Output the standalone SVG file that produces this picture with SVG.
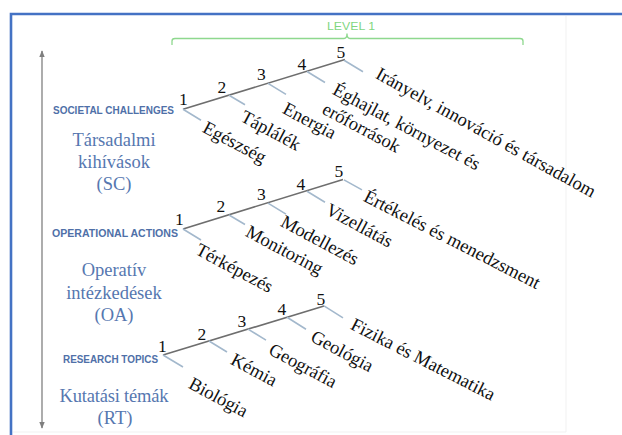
<svg xmlns="http://www.w3.org/2000/svg" width="622" height="435" viewBox="0 0 622 435">
<style>
.frame{fill:none;stroke:#4472C4;stroke-width:2.6}
.faint{fill:none;stroke:#F1F1F1;stroke-width:1}
.axis{stroke:#808080;stroke-width:1.3;fill:none}
.trunk{stroke:#6E6E6E;stroke-width:1.6;fill:none}
.tick{stroke:#A3B8CC;stroke-width:1.6;fill:none}
.brace{stroke:#8ED88E;stroke-width:1.3;fill:none}
.num{font-family:'Liberation Serif',serif;font-size:17.5px;fill:#111111}
.lab{font-family:'Liberation Serif',serif;font-size:18.5px;fill:#111111}
.cat{font-family:'Liberation Sans',sans-serif;font-weight:bold;font-size:10.5px;fill:#4F70A8}
.name{font-family:'Liberation Serif',serif;font-size:18.5px;fill:#5677B0;text-anchor:middle}
.lvl{font-family:'Liberation Sans',sans-serif;font-size:11px;fill:#7FD67F}
</style>
<defs>
<marker id="ah" viewBox="0 0 10 10" refX="9" refY="5" markerWidth="7" markerHeight="7" markerUnits="userSpaceOnUse" orient="auto-start-reverse">
<path d="M0,1 L10,5 L0,9 Z" fill="#7F7F7F"/>
</marker>
</defs>
<rect width="622" height="435" fill="#FFFFFF"/>
<path class="faint" d="M566,16 V432 H13"/>
<path class="frame" d="M11,435 V14 H622"/>

<g id="level1">
<path class="brace" d="M172,45 V41 Q172,38.5 175,38.5 H344 Q347,38.5 347,33.5 Q347,38.5 350,38.5 H520 Q523,38.5 523,41 V45"/>
<text class="lvl" x="327" y="30" textLength="48" lengthAdjust="spacingAndGlyphs">LEVEL 1</text>
</g>

<g id="axis">
<line class="axis" x1="42" y1="51" x2="42" y2="428" marker-start="url(#ah)" marker-end="url(#ah)"/>
</g>

<g id="sc-category">
<text class="cat" x="53" y="114" textLength="121" lengthAdjust="spacingAndGlyphs">SOCIETAL CHALLENGES</text>
<text class="name" x="114" y="146">Társadalmi</text>
<text class="name" x="114" y="168">kihívások</text>
<text class="name" x="114" y="190">(SC)</text>
</g>
<g id="oa-category">
<text class="cat" x="52" y="237" textLength="126" lengthAdjust="spacingAndGlyphs">OPERATIONAL ACTIONS</text>
<text class="name" x="114" y="276">Operatív</text>
<text class="name" x="114" y="299">intézkedések</text>
<text class="name" x="114" y="321">(OA)</text>
</g>
<g id="rt-category">
<text class="cat" x="63" y="363" textLength="95" lengthAdjust="spacingAndGlyphs">RESEARCH TOPICS</text>
<text class="name" x="114" y="402" textLength="109" lengthAdjust="spacing">Kutatási témák</text>
<text class="name" x="115" y="424">(RT)</text>
</g>

<g id="connectors">
<path class="trunk" d="M183,109.3 L345,59.5"/>
<path class="tick" d="M183,109.3 l18,11 M229,95.3 l16,9.5 M268,83.4 l18,11 M307,71.5 l18,11 M344,60.2 l19,11.5"/>
<path class="trunk" d="M183,229 L343,179.5"/>
<path class="tick" d="M183,229 l18,11 M229,215 l16,9.5 M268,203.1 l18,11 M307,191.2 l18,11 M344,179.9 l18,10"/>
<path class="trunk" d="M163,355 L324,306"/>
<path class="tick" d="M163,355 l20,12 M209,341 l18,11 M248,329.1 l18,11 M287,317.2 l19,12 M324,305.9 l19,12"/>
</g>

<g id="sc-items">
<text class="num" x="179" y="105">1</text>
<text class="num" x="217.5" y="93">2</text>
<text class="num" x="257" y="80">3</text>
<text class="num" x="297.5" y="70">4</text>
<text class="num" x="336.5" y="58">5</text>
<text class="lab" x="201.4" y="131.6" transform="rotate(28 201.4 131.6)">Egészség</text>
<text class="lab" x="239.4" y="120.6" transform="rotate(28 239.4 120.6)">Táplálék</text>
<text class="lab" x="281.4" y="112.6" transform="rotate(28 281.4 112.6)">Energia</text>
<text class="lab" x="331.4" y="93.6" transform="rotate(28 331.4 93.6)">Éghajlat, környezet és</text>
<text class="lab" x="321" y="113" transform="rotate(28 321 113)">erőforrások</text>
<text class="lab" x="374.4" y="77.6" transform="rotate(29 374.4 77.6)">Irányelv, innováció és társadalom</text>
</g>

<g id="oa-items">
<text class="num" x="175" y="225">1</text>
<text class="num" x="216.5" y="212">2</text>
<text class="num" x="257" y="199.5">3</text>
<text class="num" x="296.5" y="190">4</text>
<text class="num" x="334.5" y="177">5</text>
<text class="lab" x="194.4" y="253.6" transform="rotate(28 194.4 253.6)">Térképezés</text>
<text class="lab" x="244.4" y="235.6" transform="rotate(28 244.4 235.6)">Monitoring</text>
<text class="lab" x="279.4" y="225.6" transform="rotate(28 279.4 225.6)">Modellezés</text>
<text class="lab" x="324.4" y="213.6" transform="rotate(28 324.4 213.6)">Vizellátás</text>
<text class="lab" x="362.4" y="200.6" transform="rotate(27 362.4 200.6)">Értékelés és menedzsment</text>
</g>

<g id="rt-items">
<text class="num" x="158" y="352">1</text>
<text class="num" x="197.5" y="340">2</text>
<text class="num" x="237.5" y="327">3</text>
<text class="num" x="277.5" y="315">4</text>
<text class="num" x="316.5" y="305">5</text>
<text class="lab" x="187.4" y="387.6" transform="rotate(28 187.4 387.6)">Biológia</text>
<text class="lab" x="229.4" y="363.6" transform="rotate(28 229.4 363.6)">Kémia</text>
<text class="lab" x="267.4" y="353.6" transform="rotate(28 267.4 353.6)">Geográfia</text>
<text class="lab" x="309.4" y="340.6" transform="rotate(28 309.4 340.6)">Geológia</text>
<text class="lab" x="349.4" y="328.6" transform="rotate(27 349.4 328.6)">Fizika és Matematika</text>
</g>
</svg>
